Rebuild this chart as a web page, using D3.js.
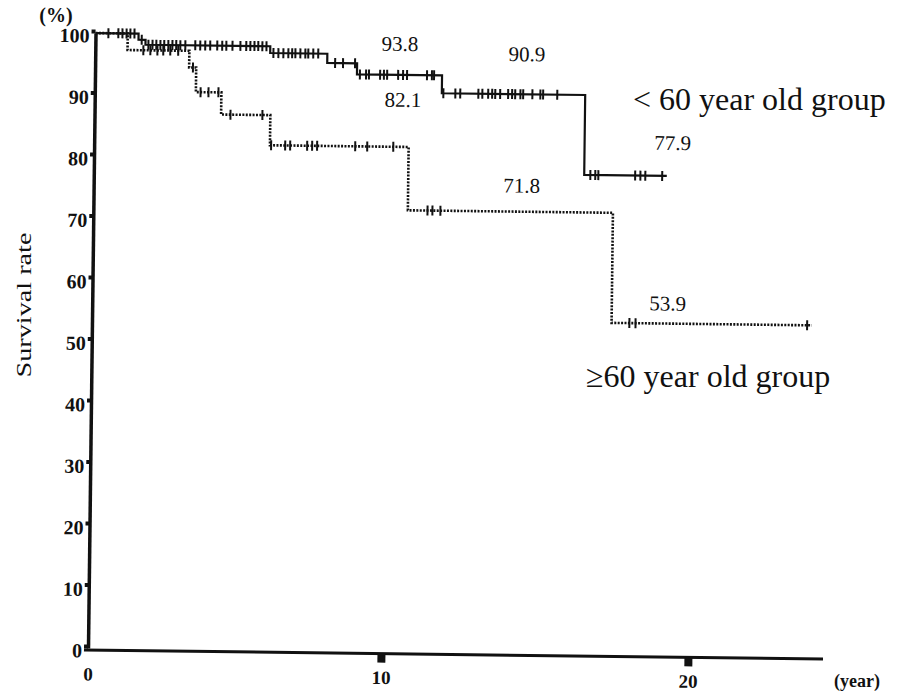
<!DOCTYPE html>
<html>
<head>
<meta charset="utf-8">
<script src="https://cdn.jsdelivr.net/npm/d3@7"></script>
<style>
    body { margin: 0; background: #fff; }
    svg text { font-family: "Liberation Serif", "Times New Roman", serif; fill: #111; }
</style>
</head>
<body>
<div id="chart"></div>
<script>
// x ticks (years) and y ticks (%)
const xTicks = [0, 10, 20];
const yTicks = [0, 10, 20, 30, 40, 50, 60, 70, 80, 90, 100];

// < 60 year old group : step times (year) and survival (%) after each step
const youngStepT = [1.47, 1.71, 5.97, 7.92, 8.94, 11.76, 16.43];
const youngStepS = [99.0, 98.2, 97.1, 95.6, 93.8, 90.9, 77.9];
const youngEnd = 19.12;
const youngCensor = [0.44, 0.78, 0.92, 1.06, 1.19, 1.33, 1.58,
    1.81, 1.95, 2.08, 2.22, 2.35, 2.49, 2.63, 2.76, 2.9, 3.07, 3.41, 3.58, 3.75, 3.92,
    4.16, 4.33, 4.47, 4.68, 4.95, 5.15, 5.29, 5.43, 5.56, 5.7, 5.84,
    6.08, 6.25, 6.42, 6.59, 6.72, 6.83, 7.0, 7.17, 7.27, 7.44, 7.61,
    8.19, 8.46, 8.87,
    9.04, 9.25, 9.35, 9.73, 9.86, 9.97, 10.33, 10.49, 10.62, 11.27, 11.43, 11.5,
    11.81, 12.2, 12.36, 12.95, 13.08, 13.27, 13.4, 13.5, 13.66, 13.92, 14.05, 14.15,
    14.32, 14.41, 14.71, 14.97, 15.06, 15.52,
    16.63, 16.79, 16.89, 18.09, 18.26, 18.42, 18.97];

// >= 60 year old group
const oldStepT = [1.1, 3.21, 3.45, 4.32, 6.0, 10.7, 17.38];
const oldStepS = [97.3, 94.6, 90.6, 87.0, 82.1, 71.8, 53.9];
const oldEnd = 23.9;
const oldCensor = [1.64, 1.88, 2.12, 2.32, 2.56, 2.83, 3.34,
    3.61, 3.88, 4.22, 4.64, 5.73,
    6.04, 6.52, 6.69, 7.27, 7.44, 7.61, 8.91, 9.32, 10.2,
    11.34, 11.5, 11.76, 17.96, 18.16, 23.75];

// value notes on the curves
const noteT = [10.38, 14.52, 10.5, 14.4, 19.3, 19.2];
const noteV = [93.8, 90.9, 82.1, 71.8, 77.9, 53.9];
const noteDy = [-24, -33, -40, -19, -26, -13];

const width = 906, height = 692;
const serif = "'Liberation Serif', 'Times New Roman', serif";

const svg = d3.select("#chart").append("svg")
    .attr("width", width)
    .attr("height", height);

// scan is slightly tilted
const plot = svg.append("g").attr("transform", "rotate(0.7,88,648)");

const x = d3.scaleLinear().domain([0, 10, 20]).range([88, 381, 688]);
const y = d3.scaleLinear().domain([0, 100]).range([648, 33]);

// y axis
const yAxis = plot.append("g")
    .attr("transform", `translate(${x(0)},0)`)
    .call(d3.axisLeft(y).tickValues(yTicks).tickSize(4).tickPadding(2).tickSizeOuter(0));
yAxis.attr("font-family", serif);
yAxis.select(".domain").attr("stroke", "#111").attr("stroke-width", 3.5);
yAxis.selectAll(".tick line").attr("stroke", "#111").attr("stroke-width", 4)
    .attr("transform", "translate(0,-2)");
yAxis.selectAll(".tick text")
    .attr("dy", "0.45em")
    .style("font-size", "20px")
    .style("font-weight", "bold");

// x axis
const xAxisG = plot.append("g").attr("transform", `translate(0,${y(0) + 2})`);
xAxisG.append("line")
    .attr("x1", x(0) - 4).attr("x2", x(24.4))
    .attr("stroke", "#111").attr("stroke-width", 3);
const xAxis = xAxisG.call(d3.axisBottom(x).tickValues(xTicks).tickSize(9).tickPadding(8).tickSizeOuter(0));
xAxis.attr("font-family", serif);
xAxis.select(".domain").remove();
xAxis.selectAll(".tick line").attr("stroke", "#111").attr("stroke-width", 8)
    .attr("display", d => d === 0 ? "none" : null);
xAxis.selectAll(".tick text")
    .style("font-size", "19px")
    .style("font-weight", "bold");

// step curves
function stepPoints(stepT, stepS, end) {
    const pts = [[0, 100]];
    stepT.forEach((t, i) => pts.push([t, stepS[i]]));
    pts.push([end, stepS[stepS.length - 1]]);
    return pts;
}
function survAt(stepT, stepS, t) {
    let s = 100;
    stepT.forEach((st, i) => { if (st <= t) s = stepS[i]; });
    return s;
}

const line = d3.line()
    .x(d => x(d[0]))
    .y(d => y(d[1]))
    .curve(d3.curveStepAfter);

const groups = [
    { stepT: oldStepT, stepS: oldStepS, end: oldEnd, censor: oldCensor, dash: "2,1.4", w: 2.6 },
    { stepT: youngStepT, stepS: youngStepS, end: youngEnd, censor: youngCensor, dash: null, w: 2.2 }
];

groups.forEach(g => {
    plot.append("path")
        .datum(stepPoints(g.stepT, g.stepS, g.end))
        .attr("d", line)
        .attr("fill", "none")
        .attr("stroke", "#111")
        .attr("stroke-width", g.w)
        .attr("stroke-dasharray", g.dash);

    plot.append("g")
        .selectAll("line")
        .data(g.censor)
        .join("line")
        .attr("x1", d => x(d))
        .attr("x2", d => x(d))
        .attr("y1", d => y(survAt(g.stepT, g.stepS, d)) - 5)
        .attr("y2", d => y(survAt(g.stepT, g.stepS, d)) + 5)
        .attr("stroke", "#111")
        .attr("stroke-width", 2);
});

// value notes
plot.append("g")
    .selectAll("text")
    .data(noteV)
    .join("text")
    .attr("x", (d, i) => x(noteT[i]))
    .attr("y", (d, i) => y(d) + noteDy[i])
    .attr("text-anchor", "middle")
    .style("font-family", serif)
    .style("font-size", "21px")
    .text(d => d.toFixed(1));

// axis titles
svg.append("text")
    .attr("x", 56).attr("y", 22)
    .attr("text-anchor", "middle")
    .style("font-family", serif)
    .style("font-size", "20px")
    .style("font-weight", "bold")
    .text("(%)");

svg.append("text")
    .attr("x", 857).attr("y", 687)
    .attr("text-anchor", "middle")
    .style("font-family", serif)
    .style("font-size", "18px")
    .style("font-weight", "bold")
    .text("(year)");

svg.append("text")
    .attr("transform", "translate(31,305) rotate(-90)")
    .attr("text-anchor", "middle")
    .attr("textLength", 145)
    .attr("lengthAdjust", "spacingAndGlyphs")
    .style("font-family", serif)
    .style("font-size", "22px")
    .text("Survival rate");

// group names
svg.append("text")
    .attr("x", 633).attr("y", 110)
    .style("font-family", serif)
    .style("font-size", "32px")
    .text("< 60 year old group");

svg.append("text")
    .attr("x", 586).attr("y", 387)
    .style("font-family", serif)
    .style("font-size", "32px")
    .text("≥60 year old group");
</script>
</body>
</html>
